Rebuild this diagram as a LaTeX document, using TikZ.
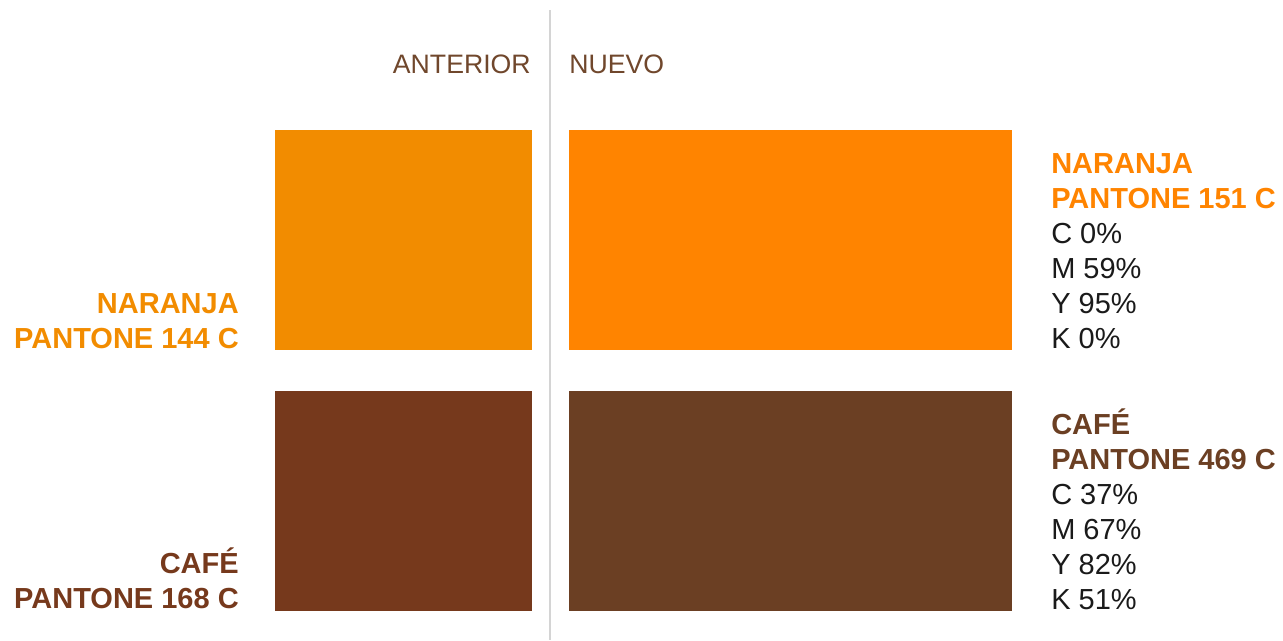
\documentclass[tikz,border=0pt]{standalone}
\usepackage{fontspec}
\setmainfont{Liberation Sans}
\definecolor{oldorange}{HTML}{F28C00}
\definecolor{neworange}{HTML}{FF8400}
\definecolor{oldbrown}{HTML}{76391C}
\definecolor{newbrown}{HTML}{6B3F23}
\definecolor{headbrown}{HTML}{70472C}
\definecolor{sep}{HTML}{D4D4D4}
\definecolor{ink}{HTML}{1A1A1A}
\begin{document}
\begin{tikzpicture}[x=0.75pt,y=-0.75pt,
  swatch/.style={draw=none},
  head/.style={inner sep=0pt,font=\fontsize{20}{24}\selectfont,text=headbrown},
  bold/.style={inner sep=0pt,font=\fontsize{21.75}{26}\selectfont\bfseries},
  reg/.style={inner sep=0pt,font=\fontsize{21.75}{26}\selectfont,text=ink},
  lft/.style={anchor=base east},
  rgt/.style={anchor=base west}]
\useasboundingbox (0,0) rectangle (1283,640);
\fill[white] (0,0) rectangle (1283,640);
% separator
\coordinate (st) at (550,10);
\coordinate (sb) at (550,640);
\draw[sep,line width=1.5pt] (st) -- (sb);
% swatches
\fill[oldorange] (275,130) rectangle (532,350);
\fill[neworange] (569,130) rectangle (1012,350);
\fill[oldbrown] (275,391) rectangle (532,611);
\fill[newbrown] (569,391) rectangle (1012,611);
% headers
\node[head,lft] (hA) at (531,73) {ANTERIOR};
\node[head,rgt] (hN) at (569,73) {NUEVO};
% left labels
\node[bold,lft,text=oldorange] (la1) at (239,313) {NARANJA};
\node[bold,lft,text=oldorange] (la2) at (239,348) {PANTONE 144 C};
\node[bold,lft,text=oldbrown] (lb1) at (239,573) {CAFÉ};
\node[bold,lft,text=oldbrown] (lb2) at (239,608) {PANTONE 168 C};
% right labels orange
\node[bold,rgt,text=neworange] (ra1) at (1051,173) {NARANJA};
\node[bold,rgt,text=neworange] (ra2) at (1051,208) {PANTONE 151 C};
\node[reg,rgt] (ra3) at (1051,243) {C 0\%};
\node[reg,rgt] (ra4) at (1051,278) {M 59\%};
\node[reg,rgt] (ra5) at (1051,313) {Y 95\%};
\node[reg,rgt] (ra6) at (1051,348) {K 0\%};
% right labels brown
\node[bold,rgt,text=newbrown] (rb1) at (1051,434) {CAFÉ};
\node[bold,rgt,text=newbrown] (rb2) at (1051,469) {PANTONE 469 C};
\node[reg,rgt] (rb3) at (1051,504) {C 37\%};
\node[reg,rgt] (rb4) at (1051,539) {M 67\%};
\node[reg,rgt] (rb5) at (1051,574) {Y 82\%};
\node[reg,rgt] (rb6) at (1051,609) {K 51\%};
\end{tikzpicture}
\end{document}
